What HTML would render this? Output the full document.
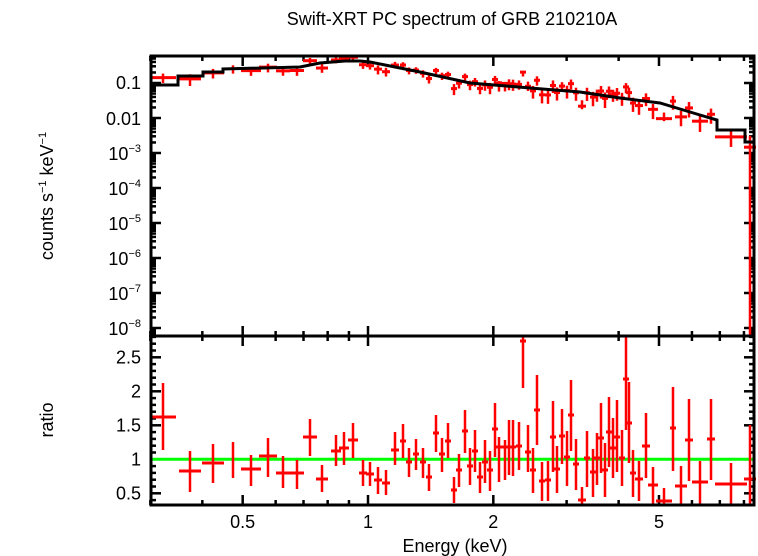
<!DOCTYPE html>
<html><head><meta charset="utf-8"><style>
body{margin:0;background:#fff;}
svg{display:block;font-family:"Liberation Sans",sans-serif;}
</style></head><body>
<svg id="s" width="758" height="556" xmlns="http://www.w3.org/2000/svg">
<rect width="758" height="556" fill="#fff"/>
<text x="452" y="25" font-size="18" text-anchor="middle">Swift-XRT PC spectrum of GRB 210210A</text>
<text x="455" y="552" font-size="18" text-anchor="middle">Energy (keV)</text>
<text transform="translate(53,196) rotate(-90)" font-size="18" text-anchor="middle">counts s<tspan dy="-7" font-size="11">−1</tspan><tspan dy="7"> keV</tspan><tspan dy="-7" font-size="11">−1</tspan></text>
<text transform="translate(53,420) rotate(-90)" font-size="18" text-anchor="middle">ratio</text>
<g id="g"></g>
</svg>
<script>
var g=document.getElementById('g'),h='';
function L(x1,y1,x2,y2,c,w){h+='<line x1="'+x1+'" y1="'+y1+'" x2="'+x2+'" y2="'+y2+'" stroke="'+c+'" stroke-width="'+w+'"/>';}
function T(x,y,s,a){h+='<text x="'+x+'" y="'+y+'" font-size="18" text-anchor="'+(a||'end')+'">'+s+'</text>';}
var X0=368,DX=416.3;function ex(e){return X0+DX*Math.log10(e);}
function ly(v){return 83-35*(Math.log10(v)+1);}
for(var d=-9;d<0;d++){for(var m=1;m<10;m++){var v=m*Math.pow(10,d);var y=ly(v);if(y<57||y>336)continue;var len=m==1?10:5;L(151,y,151+len,y,'#000',2.5);L(754,y,754-len,y,'#000',2.5);}}
T(141,89,'0.1');T(141,125,'0.01');
var labs=[[-3,154],[-4,189],[-5,224],[-6,259],[-7,294],[-8,329]];
labs.forEach(function(a){h+='<text x="141" y="'+(a[1]+6)+'" font-size="18" text-anchor="end">10<tspan dy="-8" font-size="11">'+('−'+(-a[0]))+'</tspan></text>';});
function ry(r){return 459.3-68*(r-1);}
for(var r=0.4;r<2.81;r+=0.1){var y=ry(r);var maj=Math.abs(r*2-Math.round(r*2))<0.01;L(151,y,151+(maj?10:5),y,'#000',2.5);L(754,y,754-(maj?10:5),y,'#000',2.5);}
[['0.5',0.5],['1',1],['1.5',1.5],['2',2],['2.5',2.5]].forEach(function(a){T(141,ry(a[1])+6,a[0]);});
var es=[0.3,0.4,0.5,0.6,0.7,0.8,0.9,1,2,3,4,5,6,7,8];
es.forEach(function(e){var x=ex(e);var maj=(e==0.5||e==1||e==2||e==5);var len=maj?10:5;
L(x,56,x,56+len,'#000',2.5);L(x,336,x,336-len,'#000',2.5);L(x,336,x,336+len,'#000',2.5);L(x,505,x,505-len,'#000',2.5);});
[['0.5',0.5],['1',1],['2',2],['5',5]].forEach(function(a){T(ex(a[1]),528,a[0],'middle');});
var mp=[[151,85],[178,85],[178,76],[203,76],[203,72],[223,72],[223,69],[300,67],[320,63],[345,61],[360,61],[370,62],[420,72],[470,83],[530,88],[580,92],[620,98],[660,103],[680,109],[700,115],[717,120],[717,130],[745,130],[745,142],[754,142]];
function my(x){for(var i=1;i<mp.length;i++){if(x<=mp[i][0]&&mp[i][0]>mp[i-1][0]){var t=(x-mp[i-1][0])/(mp[i][0]-mp[i-1][0]);return mp[i-1][1]+t*(mp[i][1]-mp[i-1][1]);}}return 142;}
var D=[[163,13,417,383,450],[190,11,471,451,492],[213,11,463,444,483],[233,1,461,442,478],[251,10,469,455,486],[268,9,456,438,477],[283,7,473,456,488],[297,7,473,460,489],[310,7,437,419,456],[322,6,479,465,492],[336,5,451,435,466],[344,5,448,432,465],[353,5,440,423,458],[363,4,473,460,486],[370,4,474,462,486],[378,4,480,467,494],[386,4,483,470,495],[395,4,450,432,465],
[403,3,441,424,458],[409,3,462,448,477],[416,3,454,439,470],[423,3,462,448,478],[429,3,477,464,491],[436,3,433,415,452],[442,3,454,438,472],[448,3,441,423,458],[454,3,490,477,503],[459,3,470,454,487],[465,3,431,410,453],[470,3,466,448,485],[475,3,451,430,472],[480,3,477,462,493],[485,3,462,440,483],[490,3,470,451,491],[495,3,429,403,457],[499,3,447,437,482],[505,3,447,440,480],[509,3,447,420,475],[513,3,447,420,476],[519,3,446,422,470],[523,3,341,337,388],[528,3,452,425,472],[533,3,470,448,493],[537,3,410,375,445],[542,3,481,462,501],[548,3,480,461,501],[553,3,437,401,472],[557,3,469,446,493],[562,3,436,409,464],[567,3,457,431,486],[571,3,415,380,451],[576,3,464,439,490],[582,4,500,487,505],[587,3,458,431,487],[593,3,472,449,497],[597,3,458,433,485],[601,3,438,403,473],[605,3,470,443,497],[609,3,432,397,467],[613,3,448,418,478],[617,3,437,400,472],[622,3,458,430,486],[626,3,379,337,430],[629,3,423,382,463],[633,3,473,450,497],[639,4,479,461,501],[646,4,446,413,478],[653,5,485,467,505],[664,8,501,488,505],[673,3,428,387,471],[681,6,486,466,505],[689,4,440,399,481],[700,8,482,461,505],[711,4,439,399,480],[731,16,484,463,505],[750,6,479,425,505]];
L(151,459.3,754,459.3,'#00ff00',3);
function rv(y){return 1+(459.3-y)/68;}
D.forEach(function(d){
 L(d[0]-d[1],d[2],d[0]+d[1],d[2],'#ff0000',3);L(d[0],d[3],d[0],d[4],'#ff0000',2.5);
 var m=my(d[0]);var yc=m-35*Math.log10(rv(d[2]));
 var yt=m-35*Math.log10(Math.max(rv(d[3]),0.05)),yb=m-35*Math.log10(Math.max(rv(d[4]),0.05));
 if(d[0]>745){yb=336;}
 L(d[0]-d[1],yc,d[0]+d[1],yc,'#ff0000',3);L(d[0],Math.max(yt,57),d[0],Math.min(yb,336),'#ff0000',2.5);
});
var pts=mp.map(function(p){return p[0]+','+p[1];}).join(' ');
h+='<polyline points="'+pts+'" fill="none" stroke="#000" stroke-width="3"/>';
h+='<rect x="151" y="56" width="603" height="449" fill="none" stroke="#000" stroke-width="3"/>';
L(151,336,754,336,'#000',3);
g.innerHTML=h;
</script>
</body></html>
